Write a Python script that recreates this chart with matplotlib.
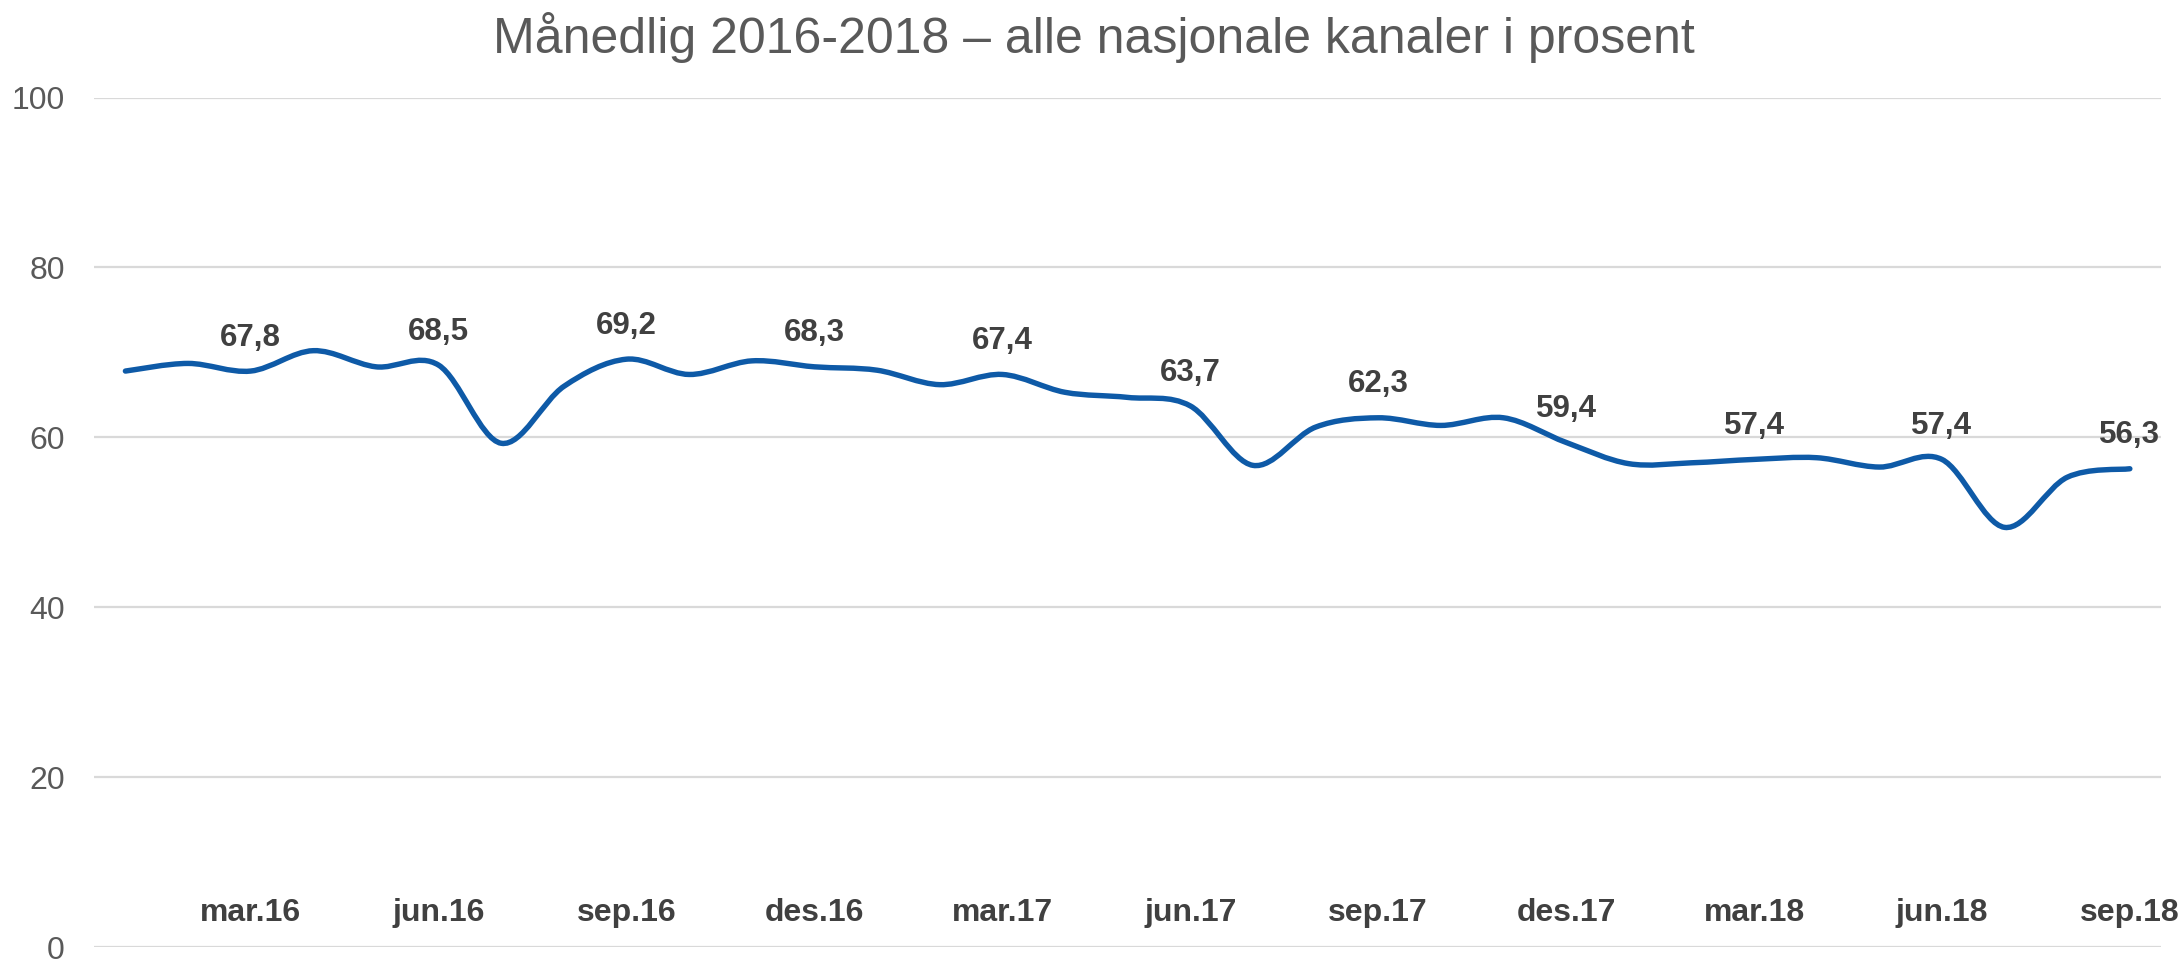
import numpy as np
import matplotlib.pyplot as plt
from matplotlib.path import Path
from matplotlib.patches import PathPatch

plt.rcParams['font.family'] = ['Liberation Sans', 'DejaVu Sans']

# ------------ DATA ------------
# monthly share, jan.16 .. sep.18
values = [67.8, 68.7, 67.8, 70.2, 68.3, 68.5, 59.3, 66.0, 69.2, 67.4, 69.0,
          68.3, 67.9, 66.2, 67.4, 65.3, 64.7, 63.7, 56.7, 61.2, 62.3, 61.4,
          62.3, 59.4, 56.9, 57.0, 57.4, 57.6, 56.5, 57.4, 49.4, 55.3, 56.3]
label_idx = [2, 5, 8, 11, 14, 17, 20, 23, 26, 29, 32]
tick_labels = ['mar.16', 'jun.16', 'sep.16', 'des.16', 'mar.17', 'jun.17',
               'sep.17', 'des.17', 'mar.18', 'jun.18', 'sep.18']
y_ticks = [0, 20, 40, 60, 80, 100]
title = 'Månedlig 2016-2018 – alle nasjonale kanaler i prosent'


# Excel-style smoothed line: cubic bezier through the points
def smooth_path(xs, ys):
    pts = np.column_stack([xs, ys]).astype(float)
    n = len(pts)
    verts = [pts[0]]
    codes = [Path.MOVETO]
    for i in range(n - 1):
        p0 = pts[max(i - 1, 0)]
        p1 = pts[i]
        p2 = pts[i + 1]
        p3 = pts[min(i + 2, n - 1)]
        c1 = p1 + (p2 - p0) / 6.0
        c2 = p2 - (p3 - p1) / 6.0
        verts += [c1, c2, p2]
        codes += [Path.CURVE4] * 3
    return Path(verts, codes)


# ------------ PLOT ------------
fig = plt.figure(figsize=(21.83, 9.59), dpi=100)
ax = fig.add_axes([0.0431, 0.0125, 0.9469, 0.8858])

x = np.arange(len(values))
blue = '#0E5AA7'
ax.add_patch(PathPatch(smooth_path(x, values), facecolor='none',
                       edgecolor=blue, lw=3.9, capstyle='round', zorder=3))

for i in label_idx:
    ax.annotate(f'{values[i]:.1f}'.replace('.', ','), (x[i], values[i]),
                xytext=(0, 24), textcoords='offset points',
                ha='center', va='center', fontsize=22.5, fontweight='bold',
                color='#404040', zorder=4)

for i, lab in zip(label_idx, tick_labels):
    ax.text(x[i], 4.0, lab, ha='center', va='center', fontsize=23,
            fontweight='bold', color='#404040')

ax.set_xlim(-0.5, len(values) - 0.5)
ax.set_ylim(0, 100)
ax.set_yticks(y_ticks)
ax.set_xticks([])
ax.grid(axis='y', color='#d9d9d9', lw=1.6)
ax.set_axisbelow(True)
for s in ax.spines.values():
    s.set_visible(False)
ax.tick_params(axis='y', length=0, pad=21, labelsize=23, labelcolor='#595959')

fig.text(0.501, 0.9447, title, ha='center', va='baseline', fontsize=36,
         color='#595959')

fig.savefig('out.png', dpi=100)
